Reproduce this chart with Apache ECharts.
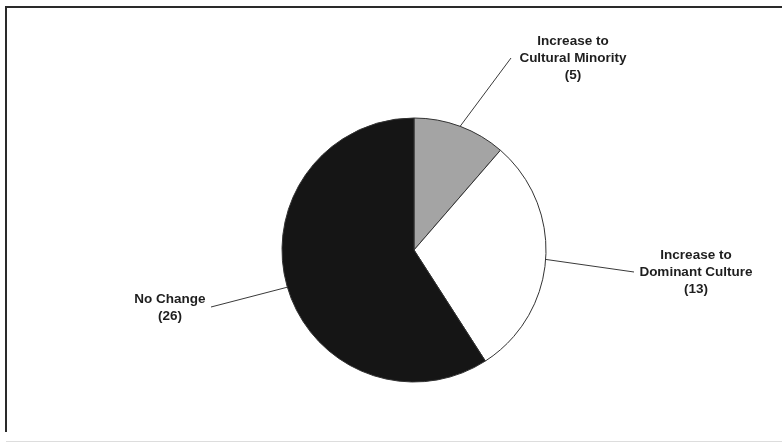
<!DOCTYPE html>
<html>
<head>
<meta charset="utf-8">
<script src="https://cdn.jsdelivr.net/npm/echarts@6/dist/echarts.min.js"></script>
<style>
html,body{margin:0;padding:0;background:#fff;}
#chart{width:782px;height:443px;}
</style>
</head>
<body>
<div id="chart"></div>
<script>
// ---- data ----
const categories = ['Increase to\nCultural Minority', 'Increase to\nDominant Culture', 'No Change'];
const values = [5, 13, 26];
const sliceColors = ['#a4a4a4', '#ffffff', '#151515'];

// ---- label layout (positions of label text centres and line ends) ----
const labelAnchors = [
  { x: 573, y: 58, end: [511, 58] },
  { x: 696, y: 272, end: [634, 272] },
  { x: 170, y: 307.5, end: [211, 307] }
];

const chart = echarts.init(document.getElementById('chart'), null, { renderer: 'canvas' });

const option = {
  backgroundColor: '#ffffff',
  animation: false,
  graphic: [
    { type: 'line', shape: { x1: 6, y1: 7, x2: 782, y2: 7 }, style: { stroke: '#2a2a2a', lineWidth: 2 } },
    { type: 'line', shape: { x1: 6, y1: 6, x2: 6, y2: 432 }, style: { stroke: '#2a2a2a', lineWidth: 2 } },
    { type: 'line', shape: { x1: 6, y1: 441.5, x2: 782, y2: 441.5 }, style: { stroke: '#dddddd', lineWidth: 1 } }
  ],
  series: [{
    type: 'pie',
    center: [414, 250],
    radius: 132,
    startAngle: 90,
    clockwise: true,
    silent: true,
    avoidLabelOverlap: false,
    data: categories.map((c, i) => ({
      name: c,
      value: values[i],
      itemStyle: { color: sliceColors[i] }
    })),
    itemStyle: { borderColor: '#333333', borderWidth: 1 },
    label: {
      show: true,
      formatter: p => p.name + '\n(' + p.value + ')',
      fontFamily: 'Arial, "Liberation Sans", Helvetica, sans-serif',
      fontWeight: 'bold',
      fontSize: 13.5,
      lineHeight: 17,
      color: '#1e1e1e',
      align: 'center'
    },
    labelLine: {
      show: true,
      length: 10,
      length2: 10,
      lineStyle: { color: '#3a3a3a', width: 1 }
    },
    labelLayout: function (params) {
      const a = labelAnchors[params.dataIndex];
      const pts = params.labelLinePoints;
      const res = { x: a.x, y: a.y, align: 'center', verticalAlign: 'middle' };
      if (pts && pts.length) {
        res.labelLinePoints = [pts[0], a.end];
      }
      return res;
    }
  }]
};

chart.setOption(option);
</script>
</body>
</html>
